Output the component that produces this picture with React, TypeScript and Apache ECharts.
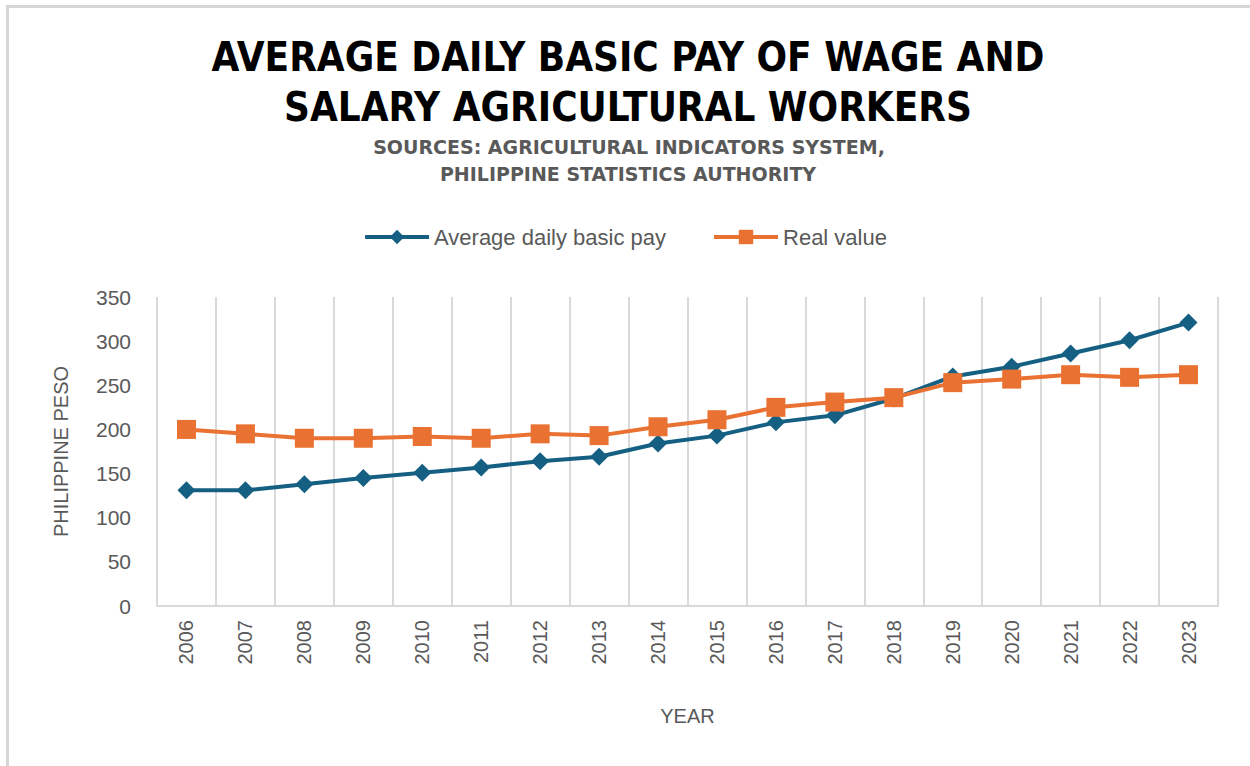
import React, { useEffect, useRef } from "react";
import * as echarts from "echarts";

const years = ["2006","2007","2008","2009","2010","2011","2012","2013","2014","2015","2016","2017","2018","2019","2020","2021","2022","2023"];
const avgDailyPay = [131,131,138,145,151,157,164,169,184,193,208,216,235,260,271,286,301,321];
const realValue = [200,195,190,190,192,190,195,193,203,211,225,231,236,253,257,262,259,262];

const titleLines = ["AVERAGE DAILY BASIC PAY OF WAGE AND", "SALARY AGRICULTURAL WORKERS"];
const subLines = ["SOURCES: AGRICULTURAL INDICATORS SYSTEM,", "PHILIPPINE STATISTICS AUTHORITY"];

export default function App() {
  const ref = useRef<HTMLDivElement>(null);
  useEffect(() => {
    const chart = echarts.init(ref.current!, null, { renderer: "svg" });
    const gray = "#595959";
    chart.setOption({
      animation: false,
      backgroundColor: "#ffffff",
      graphic: [
        { type: "line", shape: { x1: 6, y1: 6.5, x2: 1250, y2: 6.5 }, style: { stroke: "#d6d6d6", lineWidth: 3 } },
        { type: "line", shape: { x1: 7.5, y1: 6, x2: 7.5, y2: 766 }, style: { stroke: "#d6d6d6", lineWidth: 3 } },
        {
          type: "text", x: 628, y: 57,
          style: { text: titleLines[0], fill: "#000", font: "bold 40px 'DejaVu Sans Condensed', 'DejaVu Sans'", textAlign: "center", textVerticalAlign: "middle" },
        },
        {
          type: "text", x: 628, y: 107,
          style: { text: titleLines[1], fill: "#000", font: "bold 40px 'DejaVu Sans Condensed', 'DejaVu Sans'", textAlign: "center", textVerticalAlign: "middle" },
        },
        {
          type: "text", x: 629, y: 147,
          style: { text: subLines[0], fill: gray, font: "bold 19px 'DejaVu Sans'", textAlign: "center", textVerticalAlign: "middle" },
        },
        {
          type: "text", x: 628, y: 174,
          style: { text: subLines[1], fill: gray, font: "bold 19px 'DejaVu Sans'", textAlign: "center", textVerticalAlign: "middle" },
        },
      ],
      legend: {
        top: 221,
        left: "center",
        itemWidth: 64,
        itemHeight: 18,
        itemGap: 46,
        lineStyle: { width: 4 },
        textStyle: { color: gray, fontSize: 22, fontFamily: "'Liberation Sans'" },
        data: ["Average daily basic pay", "Real value"],
      },
      grid: { left: 157, right: 32, top: 297, bottom: 160 },
      xAxis: {
        type: "category",
        data: years,
        boundaryGap: true,
        name: "YEAR",
        nameLocation: "middle",
        nameGap: 100,
        nameTextStyle: { color: gray, fontSize: 20, fontFamily: "'Liberation Sans'" },
        axisLine: { show: true, lineStyle: { color: "#d9d9d9", width: 2 } },
        axisTick: { show: false },
        splitLine: { show: true, lineStyle: { color: "#d9d9d9", width: 2 } },
        axisLabel: { rotate: 90, color: gray, fontSize: 20, margin: 14, fontFamily: "'Liberation Sans'", interval: 0 },
      },
      yAxis: {
        type: "value",
        min: 0,
        max: 350,
        interval: 50,
        name: "PHILIPPINE PESO",
        nameLocation: "middle",
        nameGap: 86,
        nameTextStyle: { color: gray, fontSize: 20, fontFamily: "'Liberation Sans'" },
        axisLine: { show: false },
        axisTick: { show: false },
        splitLine: { show: false },
        axisLabel: { color: gray, fontSize: 21, margin: 26, fontFamily: "'Liberation Sans'" },
      },
      series: [
        {
          name: "Average daily basic pay",
          type: "line",
          data: avgDailyPay,
          symbol: "diamond",
          symbolSize: 18,
          color: "#156082",
          lineStyle: { width: 4, color: "#156082" },
          itemStyle: { color: "#156082" },
        },
        {
          name: "Real value",
          type: "line",
          data: realValue,
          symbol: "rect",
          symbolSize: 19,
          color: "#E97132",
          lineStyle: { width: 4, color: "#E97132" },
          itemStyle: { color: "#E97132" },
        },
      ],
    });
    return () => chart.dispose();
  }, []);
  return <div ref={ref} style={{ width: 1250, height: 766, position: "absolute", left: 0, top: 0 }} />;
}
